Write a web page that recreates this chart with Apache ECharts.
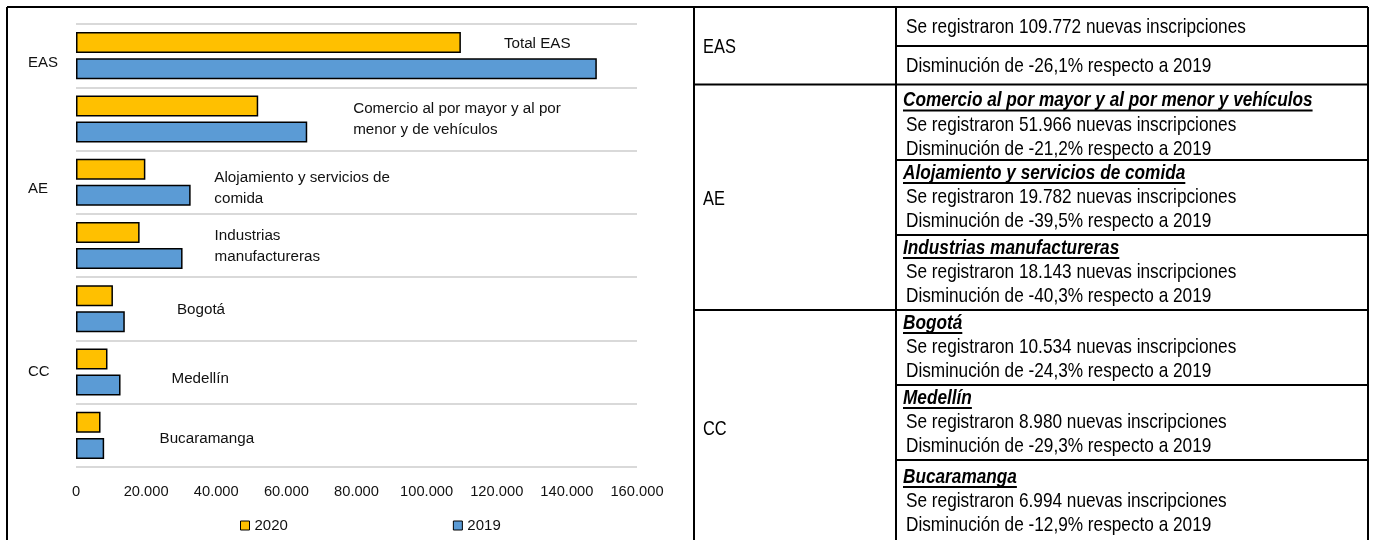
<!DOCTYPE html>
<html><head><meta charset="utf-8">
<script src="https://cdn.jsdelivr.net/npm/echarts@6/dist/echarts.min.js"></script>
<style>html,body{margin:0;padding:0;background:#fff}#c{width:1373px;height:540px}</style>
</head><body><div id="c"></div>
<script>
// ---------- data ----------
const categories = ['Total EAS','Comercio al por mayor y al por\nmenor y de vehículos','Alojamiento y servicios de\ncomida','Industrias\nmanufactureras','Bogotá','Medellín','Bucaramanga'];
const groupLabels = ['EAS','','AE','','','CC',''];
const values2020 = [109772, 51966, 19782, 18143, 10534, 8980, 6994];
const values2019 = [148541, 65947, 32698, 30391, 13915, 12702, 8030];
const seriesNames = ['2020', '2019'];
const tableGroups = ['EAS', 'AE', 'CC'];
const tableNames = ['', 'Comercio al por mayor y al por menor y vehículos', 'Alojamiento y servicios de comida', 'Industrias manufactureras', 'Bogotá', 'Medellín', 'Bucaramanga'];
const declinePct = ['26,1', '21,2', '39,5', '40,3', '24,3', '29,3', '12,9'];

// ---------- styling / layout ----------
const FONT = "'Liberation Sans',Arial,sans-serif";
const NARROW = 0.82;
const labelNudge = [[43,1],[95,13.5],[69,19],[75,14],[64,14],[64,20],[59,16]];
const groupPad = [15, 0, 13, 0, 0, 0, 0];
const fmt = n => String(n).replace(/\B(?=(\d{3})+(?!\d))/g, '.');

const chart = echarts.init(document.getElementById('c'));

// table graphics
const LW = 2;
const tX0 = 694, tX1 = 896, tX2 = 1368, tTop = 7;
const blockBounds = [84.5, 160, 235, 310, 385, 460, 545];
const groupBounds = [[7, 84.5], [84.5, 310], [310, 545]];
const g = [];
function line(x1, y1, x2, y2) {
  g.push({type:'line', shape:{x1, y1, x2, y2}, style:{stroke:'#000', lineWidth:LW}, z:10});
}
function text(x, y, t, size, weight, style) {
  g.push({type:'text', x, y, scaleX: NARROW, style:{text:t, fill:'#000', fontFamily:FONT, fontSize:size,
    fontWeight:weight||'normal', fontStyle:style||'normal', align:'left', verticalAlign:'middle'}, z:10});
}
const meas = document.createElement('canvas').getContext('2d');
// chart panel border
line(7, 7, 7, 545);
line(7, 7, tX0, 7);
// table frame
line(tX0, tTop, tX2, tTop);
line(tX0, tTop, tX0, 545);
line(tX1, tTop, tX1, 545);
line(tX2, tTop, tX2, 545);
line(tX1, 46, tX2, 46);
line(tX0, 84.5, tX2, 84.5);
line(tX0, 310, tX2, 310);
[160, 235, 385, 460].forEach(y => line(tX1, y, tX2, y));
groupBounds.forEach((b, i) => text(703, (b[0] + b[1]) / 2 + 2, tableGroups[i], 20));
// EAS rows
text(906, 27.5, 'Se registraron ' + fmt(values2020[0]) + ' nuevas inscripciones', 21);
text(906, 66.5, 'Disminución de -' + declinePct[0] + '% respecto a 2019', 21);
for (let i = 1; i < 7; i++) {
  const top = blockBounds[i - 1];
  const extra = (i === 1) ? 3 : (i === 6 ? 4 : 0);
  const hy = top + 13 + extra;
  text(903, hy, tableNames[i], 21, 'bold', 'italic');
  meas.font = 'italic bold 21px ' + FONT;
  const w = meas.measureText(tableNames[i]).width * NARROW;
  line(903, hy + 10, 903 + w, hy + 10);
  text(906, top + 37.5 + extra, 'Se registraron ' + fmt(values2020[i]) + ' nuevas inscripciones', 21);
  text(906, top + 61.5 + extra, 'Disminución de -' + declinePct[i] + '% respecto a 2019', 21);
}

const option = {
  animation: false,
  backgroundColor: '#fff',
  textStyle: {fontFamily: FONT},
  grid: {left: 76, right: 736, top: 24, bottom: 73},
  legend: {
    data: seriesNames, left: 235, top: 513, itemWidth: 9, itemHeight: 9, icon: 'rect', itemGap: 165,
    textStyle: {fontFamily: FONT, fontSize: 15, color: '#111'},
    itemStyle: {borderColor: '#000', borderWidth: 1}
  },
  xAxis: {
    type: 'value', min: 0, max: 160000, interval: 20000,
    axisLine: {show: false}, axisTick: {show: false}, splitLine: {show: false},
    axisLabel: {fontFamily: FONT, fontSize: 14.7, color: '#111', margin: 17, formatter: v => fmt(v)}
  },
  yAxis: {
    type: 'category', data: categories, inverse: true,
    axisLine: {show: false}, axisTick: {show: false},
    splitLine: {show: true, interval: 0, lineStyle: {color: '#d9d9d9', width: 2}},
    axisLabel: {
      interval: 0, align: 'left', margin: 48, fontFamily: FONT, fontSize: 15, color: '#111',
      formatter: (v, i) => groupLabels[i] ? '{p' + i + '|' + groupLabels[i] + '}' : '',
      rich: Object.fromEntries(groupPad.map((p, i) => ['p' + i, {padding: [p, 0, 0, 0], fontFamily: FONT, fontSize: 15, color: '#111'}]))
    }
  },
  series: [
    {
      name: seriesNames[0], type: 'bar', barWidth: 21, barGap: '24%',
      itemStyle: {color: '#FFC000', borderColor: '#000', borderWidth: 1.5},
      data: values2020.map((v, i) => ({value: v, label: {distance: labelNudge[i][0], offset: [0, labelNudge[i][1]]}})),
      label: {show: true, position: 'right', fontFamily: FONT, fontSize: 15.2, lineHeight: 21, color: '#111',
        formatter: p => categories[p.dataIndex]}
    },
    {
      name: seriesNames[1], type: 'bar', barWidth: 21,
      itemStyle: {color: '#5B9BD5', borderColor: '#000', borderWidth: 1.5},
      data: values2019
    }
  ],
  graphic: g
};
chart.setOption(option);
</script></body></html>
